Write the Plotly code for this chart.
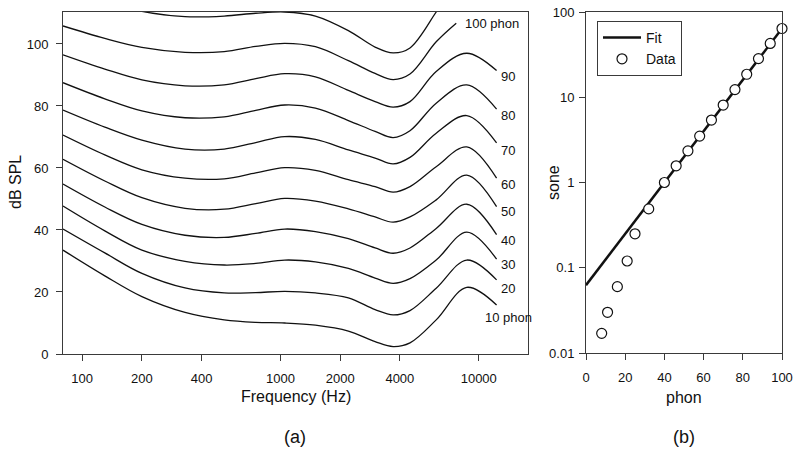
import plotly.graph_objects as go
import math

# ---- Panel (a): equal-loudness contours ----
freq = [80, 130, 200, 330, 520, 750, 1050, 1500, 2200, 3000, 3700, 4500, 6100, 8700, 12300]
db10 = [33.5, 25.2, 18.5, 13.4, 11.0, 10.2, 10.0, 9.3, 7.4, 4.0, 2.4, 3.6, 11.0, 21.5, 15.8]
db20 = [40.3, 32.6, 26.0, 21.3, 19.7, 19.8, 20.2, 19.7, 18.1, 14.3, 12.6, 14.0, 21.2, 30.3, 23.9]
db30 = [47.7, 39.7, 33.5, 29.9, 28.7, 29.2, 30.3, 29.7, 27.6, 24.5, 22.8, 24.3, 30.3, 39.3, 30.6]
db40 = [54.8, 47.4, 41.8, 38.3, 37.6, 38.9, 40.3, 39.5, 37.2, 34.2, 32.5, 34.2, 40.5, 48.3, 38.5]
db50 = [62.8, 55.8, 50.4, 47.0, 46.7, 48.5, 50.2, 49.3, 46.8, 44.2, 42.5, 44.2, 49.7, 57.7, 47.5]
db60 = [70.6, 64.2, 59.4, 56.7, 56.5, 58.4, 60.1, 59.2, 56.2, 54.0, 52.2, 54.0, 60.4, 66.8, 56.7]
db70 = [78.7, 73.2, 69.0, 66.1, 66.1, 68.2, 70.1, 69.2, 65.8, 63.2, 61.3, 63.4, 71.2, 76.9, 68.1]
db80 = [87.5, 82.3, 78.4, 76.2, 76.5, 78.6, 80.3, 79.3, 75.3, 71.8, 69.8, 72.0, 80.9, 86.8, 79.0]
db90 = [96.5, 91.9, 88.4, 86.5, 86.8, 88.8, 90.4, 89.4, 85.0, 81.4, 79.6, 81.4, 91.1, 97.0, 91.4]
freq100 = [80, 130, 200, 330, 520, 750, 1050, 1500, 2200, 3000, 3700, 4500, 6100, 7700]
db100 = [105.8, 101.8, 98.9, 97.3, 97.5, 99.2, 100.2, 99.1, 94.6, 90.5, 88.5, 90.3, 100.7, 106.7]
freq110 = [80, 130, 200, 330, 520, 750, 1050, 1500, 2200, 3000, 3700, 4500, 6100, 7000]
db110 = [118.0, 113.5, 110.5, 108.8, 109.0, 109.9, 110.3, 109.0, 104.3, 99.0, 97.1, 98.7, 110.3, 116.0]

freq_ticks = [100, 200, 400, 1000, 2000, 4000, 10000]
db_ticks = [0, 20, 40, 60, 80, 100]

contour_labels = ["10 phon", "20", "30", "40", "50", "60", "70", "80", "90", "100 phon"]
label_freq = [10500, 12600, 12600, 12600, 12600, 12600, 12600, 12600, 12600, 8300]
label_db = [11.9, 21.0, 29.0, 36.5, 45.8, 54.8, 65.5, 76.8, 89.4, 106.5]

# ---- Panel (b): loudness in sone vs phon ----
phon_data = [8, 11, 16, 21, 25, 32, 40, 46, 52, 58, 64, 70, 76, 82, 88, 94, 100]
sone_data = [0.017, 0.030, 0.060, 0.12, 0.25, 0.49, 1.0, 1.57, 2.35, 3.5, 5.4,
             8.1, 12.3, 18.6, 28.4, 42.8, 64]
fit_phon = [0, 100]
fit_sone = [0.0625, 64]
phon_ticks = [0, 20, 40, 60, 80, 100]
sone_ticks = [0.01, 0.1, 1, 10, 100]
sone_ticktext = ["0.01", "0.1", "1", "10", "100"]

FONT = "Liberation Sans, Arial, sans-serif"
W, H = 800, 453
AX = "#3a3a3a"

fig = go.Figure()

curves = [(freq, db10), (freq, db20), (freq, db30), (freq, db40), (freq, db50),
          (freq, db60), (freq, db70), (freq, db80), (freq, db90),
          (freq100, db100), (freq110, db110)]
for fx, fy in curves:
    fig.add_trace(go.Scatter(x=fx, y=fy, mode="lines",
                             line=dict(color="#111", width=1.3, shape="spline", smoothing=1.0),
                             showlegend=False, xaxis="x", yaxis="y", hoverinfo="skip"))

fig.add_trace(go.Scatter(x=fit_phon, y=fit_sone, mode="lines", name="Fit",
                         line=dict(color="#111", width=2.5), xaxis="x2", yaxis="y2"))
fig.add_trace(go.Scatter(x=phon_data, y=sone_data, mode="markers", name="Data",
                         marker=dict(symbol="circle", size=10, color="white",
                                     line=dict(color="#111", width=1.2)),
                         cliponaxis=False, xaxis="x2", yaxis="y2"))

common = dict(showline=True, linecolor=AX, linewidth=1, mirror=True, ticks="outside",
              ticklen=6, tickcolor=AX, showgrid=False, zeroline=False, automargin=False,
              tickfont=dict(family=FONT, size=13, color="#111"))

fig.update_layout(
    template="none",
    width=W, height=H, margin=dict(l=0, r=0, t=0, b=0, pad=0, autoexpand=False),
    paper_bgcolor="white", plot_bgcolor="white",
    font=dict(family=FONT, color="#111"),
    xaxis=dict(type="log", domain=[63 / W, 528 / W], range=[math.log10(80), 4.2484],
               tickvals=freq_ticks, ticktext=[str(v) for v in freq_ticks], anchor="y",
               ticklabelstandoff=6, **common),
    yaxis=dict(domain=[1 - 354 / H, 1 - 12 / H], range=[0, 110.3], tickvals=db_ticks, anchor="x",
               ticklabelstandoff=5, **common),
    xaxis2=dict(domain=[586 / W, 782 / W], range=[0, 100], tickvals=phon_ticks, anchor="y2",
                ticklabelstandoff=6, **common),
    yaxis2=dict(type="log", domain=[1 - 353 / H, 1 - 12 / H], range=[-2, 2], tickvals=sone_ticks,
                ticktext=sone_ticktext, anchor="x2", ticklabelstandoff=2, **common),
    legend=dict(x=597 / W, y=1 - 21 / H, xanchor="left", yanchor="top", bgcolor="white",
                bordercolor=AX, borderwidth=1, font=dict(family=FONT, size=14, color="#111"),
                tracegroupgap=0, itemwidth=38),
    showlegend=True,
)

anns = []
for t, fx, dy in zip(contour_labels, label_freq, label_db):
    anns.append(dict(x=math.log10(fx), y=dy, xref="x", yref="y", text=t, showarrow=False,
                     xanchor="left", yanchor="middle", font=dict(family=FONT, size=13, color="#111")))
anns += [
    dict(x=296 / W, y=1 - 396 / H, xref="paper", yref="paper", text="Frequency (Hz)", showarrow=False,
         xanchor="center", yanchor="middle", font=dict(family=FONT, size=16, color="#111")),
    dict(x=15 / W, y=1 - 182 / H, xref="paper", yref="paper", text="dB SPL", showarrow=False, textangle=-90,
         xanchor="center", yanchor="middle", font=dict(family=FONT, size=16, color="#111")),
    dict(x=295 / W, y=1 - 437 / H, xref="paper", yref="paper", text="(a)", showarrow=False,
         xanchor="center", yanchor="middle", font=dict(family=FONT, size=18, color="#111")),
    dict(x=684 / W, y=1 - 397 / H, xref="paper", yref="paper", text="phon", showarrow=False,
         xanchor="center", yanchor="middle", font=dict(family=FONT, size=16, color="#111")),
    dict(x=553 / W, y=1 - 183 / H, xref="paper", yref="paper", text="sone", showarrow=False, textangle=-90,
         xanchor="center", yanchor="middle", font=dict(family=FONT, size=16, color="#111")),
    dict(x=684 / W, y=1 - 437 / H, xref="paper", yref="paper", text="(b)", showarrow=False,
         xanchor="center", yanchor="middle", font=dict(family=FONT, size=18, color="#111")),
]
fig.update_layout(annotations=anns)

fig.write_html("out.html", config={"displayModeBar": False},
               post_script="document.body.style.margin='0';document.body.style.overflow='hidden';")
